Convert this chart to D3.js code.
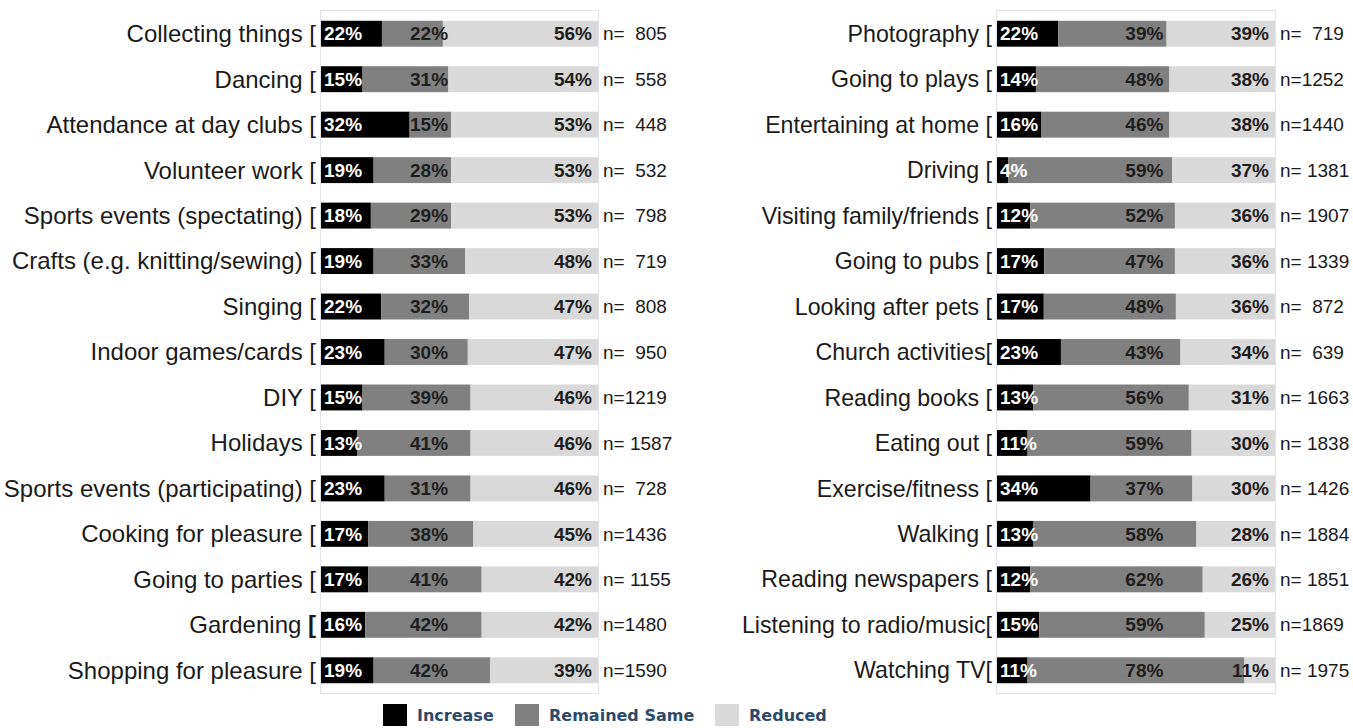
<!DOCTYPE html>
<html><head><meta charset="utf-8">
<script src="https://cdn.jsdelivr.net/npm/d3@7"></script>
<style>
body{margin:0;background:#fff}
svg{display:block}
text{font-family:"Liberation Sans",Arial,sans-serif;white-space:pre}
</style>
</head><body>
<svg id="chart" width="1353" height="728"></svg>
<script>
// ---------- data ----------
const seriesKeys = ["increase", "same", "reduced"];
const seriesNames = ["Increase", "Remained Same", "Reduced"];

const leftCategories = ["Collecting things [", "Dancing [", "Attendance at day clubs [", "Volunteer work [",
  "Sports events (spectating) [", "Crafts (e.g. knitting/sewing) [", "Singing [", "Indoor games/cards [",
  "DIY [", "Holidays [", "Sports events (participating) [", "Cooking for pleasure [", "Going to parties [",
  "Gardening [", "Shopping for pleasure ["];
const leftIncrease = [22, 15, 32, 19, 18, 19, 22, 23, 15, 13, 23, 17, 17, 16, 19];
const leftSame     = [22, 31, 15, 28, 29, 33, 32, 30, 39, 41, 31, 38, 41, 42, 42];
const leftReduced  = [56, 54, 53, 53, 53, 48, 47, 47, 46, 46, 46, 45, 42, 42, 39];
const leftN = ["n=  805", "n=  558", "n=  448", "n=  532", "n=  798", "n=  719", "n=  808", "n=  950",
  "n=1219", "n= 1587", "n=  728", "n=1436", "n= 1155", "n=1480", "n=1590"];

const rightCategories = ["Photography [", "Going to plays [", "Entertaining at home [", "Driving [",
  "Visiting family/friends [", "Going to pubs [", "Looking after pets [", "Church activities[",
  "Reading books [", "Eating out [", "Exercise/fitness [", "Walking [", "Reading newspapers [",
  "Listening to radio/music[", "Watching TV["];
const rightIncrease = [22, 14, 16, 4, 12, 17, 17, 23, 13, 11, 34, 13, 12, 15, 11];
const rightSame     = [39, 48, 46, 59, 52, 47, 48, 43, 56, 59, 37, 58, 62, 59, 78];
const rightReduced  = [39, 38, 38, 37, 36, 36, 36, 34, 31, 30, 30, 28, 26, 25, 11];
const rightN = ["n=  719", "n=1252", "n=1440", "n= 1381", "n= 1907", "n= 1339", "n=  872", "n=  639",
  "n= 1663", "n= 1838", "n= 1426", "n= 1884", "n= 1851", "n=1869", "n= 1975"];

const boldBracket = ["Gardening ["];

// ---------- styles / layout ----------
const colors = {increase: "#000000", same: "#808080", reduced: "#d9d9d9"};
const labelColors = {increase: "#ffffff", same: "#1e1e1e", reduced: "#1e1e1e"};

const svg = d3.select("#chart");
const y = d3.scaleBand().range([11, 693]).paddingInner(0.43).paddingOuter(0.215);

function panel(cats, inc, same, red, nLabels, x0, x1, sameLabelPos, catSize) {
  const rows = cats.map((c, i) => ({cat: c, increase: inc[i], same: same[i], reduced: red[i], n: nLabels[i]}));
  const yy = y.copy().domain(cats);
  const x = d3.scaleLinear().domain([0, 1]).range([x0, x1]);
  const stacked = d3.stack().keys(seriesKeys).offset(d3.stackOffsetExpand)(rows);
  const g = svg.append("g");

  // frame
  g.append("rect")
    .attr("x", x(0) - 0.5).attr("y", yy.range()[0] - 0.5)
    .attr("width", x(1) - x(0) + 1).attr("height", yy.range()[1] - yy.range()[0] + 1)
    .attr("fill", "none").attr("stroke", "#e3e4ea").attr("stroke-width", 1);

  // bars
  g.selectAll("g.series").data(stacked).join("g")
    .attr("fill", d => colors[d.key])
    .selectAll("rect").data(d => d).join("rect")
    .attr("x", d => x(d[0]))
    .attr("y", d => yy(d.data.cat))
    .attr("width", d => x(d[1]) - x(d[0]))
    .attr("height", yy.bandwidth());

  const cy = d => yy(d.cat) + yy.bandwidth() / 2;

  // category labels
  const lab = g.selectAll("text.cat").data(rows).join("text")
    .attr("class", "cat")
    .attr("x", x(0) - 5).attr("y", cy).attr("dy", "0.35em")
    .attr("text-anchor", "end").attr("font-size", catSize).attr("fill", "#1a1a1a");
  lab.each(function(d) {
    const t = d3.select(this);
    const base = d.cat.slice(0, -1);
    t.append("tspan").text(base);
    t.append("tspan").text("[").attr("font-weight", boldBracket.includes(d.cat) ? "bold" : null);
  });

  // percentage labels
  const pct = g.append("g").attr("font-size", 19).attr("font-weight", "bold");
  pct.selectAll("text.inc").data(rows).join("text")
    .attr("x", x(0) + 3).attr("y", cy).attr("dy", "0.35em")
    .attr("fill", labelColors.increase).text(d => d.increase + "%");
  pct.selectAll("text.same").data(rows).join("text")
    .attr("x", x(sameLabelPos)).attr("y", cy).attr("dy", "0.35em").attr("text-anchor", "middle")
    .attr("fill", labelColors.same).text(d => d.same + "%");
  pct.selectAll("text.red").data(rows).join("text")
    .attr("x", x(1) - 6).attr("y", cy).attr("dy", "0.35em").attr("text-anchor", "end")
    .attr("fill", labelColors.reduced).text(d => d.reduced + "%");

  // n labels
  g.selectAll("text.n").data(rows).join("text")
    .attr("x", x(1) + 5).attr("y", cy).attr("dy", "0.35em")
    .attr("font-size", 19).attr("fill", "#1a1a1a").text(d => d.n);
}

panel(leftCategories, leftIncrease, leftSame, leftReduced, leftN, 321, 598, 0.39, 24);
panel(rightCategories, rightIncrease, rightSame, rightReduced, rightN, 997, 1275, 0.53, 23.2);

// legend
const legendX = [383, 515, 715];
const leg = svg.append("g").selectAll("g").data(seriesKeys).join("g")
  .attr("transform", (d, i) => `translate(${legendX[i]},704)`);
leg.append("rect").attr("width", 24).attr("height", 22).attr("fill", d => colors[d]);
leg.append("text").attr("x", 34).attr("y", 17)
  .style("font-family", "'DejaVu Sans', sans-serif").attr("font-weight", "bold")
  .attr("font-size", 16).attr("fill", "#2b4a6b")
  .text((d, i) => seriesNames[i]);
</script>
</body></html>
